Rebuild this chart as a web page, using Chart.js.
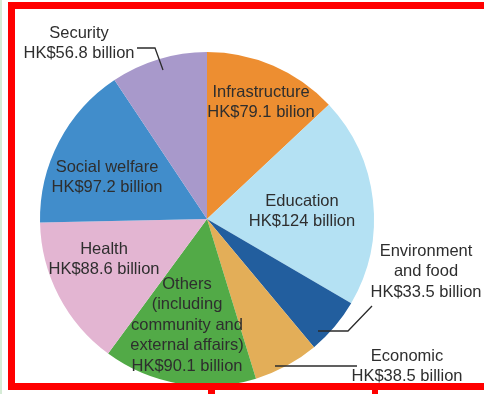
<!DOCTYPE html>
<html>
<head>
<meta charset="utf-8">
<script src="https://cdn.jsdelivr.net/npm/chart.js@4"></script>
<style>
  body { margin: 0; background: #fff; }
  canvas { display: block; }
</style>
</head>
<body>
<canvas id="budgetPie" width="484" height="394"></canvas>
<script>
// spending areas, clockwise from 12 o'clock
const areas = ["Infrastructure", "Education", "Environment and food", "Economic",
  "Others (including community and external affairs)", "Health", "Social welfare", "Security"];
const amounts = [79.1, 124, 33.5, 38.5, 90.1, 88.6, 97.2, 56.8];
const labelLines = [
  ["Infrastructure", "HK$79.1 bilion"],
  ["Education", "HK$124 billion"],
  ["Environment", "and food", "HK$33.5 billion"],
  ["Economic", "HK$38.5 billion"],
  ["Others", "(including", "community and", "external affairs)", "HK$90.1 billion"],
  ["Health", "HK$88.6 billion"],
  ["Social welfare", "HK$97.2 billion"],
  ["Security", "HK$56.8 billion"]
];
const sliceColors = ["#ED8E31", "#B4E1F3", "#225E9E", "#E3AE58", "#52AA47", "#E3B5D2", "#418DCB", "#A899CB"];

// label placement, offsets from the pie centre in pixels (first line centre)
const labelPos = [
  [54, -127], [95, -18], [219, 32], [200, 137],
  [-20, 65], [-103, 30], [-100, -52], [-128, -186]
];
// leader lines for the labels sitting outside the pie
const leaders = {
  7: [[-70, -171], [-52, -171], [-44, -149]],
  2: [[165, 87], [141, 112], [111, 112]],
  3: [[150, 147], [68, 147]]
};

const labelPlugin = {
  id: "sliceLabels",
  afterDatasetsDraw(chart) {
    const ctx = chart.ctx;
    const arc = chart.getDatasetMeta(0).data[0];
    const cx = arc.x, cy = arc.y;
    ctx.save();
    ctx.fillStyle = "#2e2e2e";
    ctx.font = "16.5px 'Liberation Sans', Arial, sans-serif";
    ctx.textAlign = "center";
    ctx.textBaseline = "middle";
    labelLines.forEach((lines, i) => {
      const [dx, dy] = labelPos[i];
      lines.forEach((t, k) => ctx.fillText(t, cx + dx, cy + dy + k * 20.5));
    });
    ctx.strokeStyle = "#2b2b2b";
    ctx.lineWidth = 1.3;
    Object.values(leaders).forEach(pts => {
      ctx.beginPath();
      pts.forEach(([dx, dy], k) => k ? ctx.lineTo(cx + dx, cy + dy) : ctx.moveTo(cx + dx, cy + dy));
      ctx.stroke();
    });
    ctx.restore();
  },
  afterDraw(chart) {
    // red frame around the figure
    const ctx = chart.ctx;
    ctx.save();
    ctx.fillStyle = "#D6ECD6";
    ctx.fillRect(0, 0, 2, 394);
    ctx.fillStyle = "#FF0000";
    ctx.fillRect(8, 2, 476, 7);
    ctx.fillRect(8, 2, 7, 388);
    ctx.fillRect(8, 383, 476, 7);
    ctx.fillRect(208, 390, 7, 4);
    ctx.fillRect(372, 390, 6, 4);
    ctx.restore();
  }
};

new Chart(document.getElementById("budgetPie"), {
  type: "pie",
  data: {
    labels: areas,
    datasets: [{
      data: amounts,
      backgroundColor: sliceColors,
      borderWidth: 0
    }]
  },
  options: {
    responsive: false,
    animation: false,
    layout: { padding: { left: 40, right: 110, top: 52, bottom: 8 } },
    plugins: {
      legend: { display: false },
      tooltip: { enabled: false }
    }
  },
  plugins: [labelPlugin]
});
</script>
</body>
</html>
